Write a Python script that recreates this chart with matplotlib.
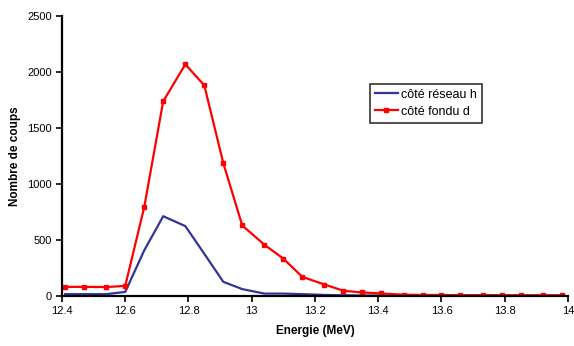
import matplotlib
matplotlib.use("Agg")
import matplotlib.pyplot as plt

plt.rcParams['font.family'] = ['Liberation Sans', 'DejaVu Sans']

energie = [12.41, 12.47, 12.54, 12.60, 12.66, 12.72, 12.79, 12.85, 12.91, 12.97,
           13.04, 13.10, 13.16, 13.23, 13.29, 13.35, 13.41, 13.48, 13.54, 13.60,
           13.66, 13.73, 13.79, 13.85, 13.92, 13.98]
reseau_h = [15, 15, 15, 35, 405, 710, 622, 375, 125, 60,
            20, 20, 15, 8, 5, 3, 2, 1, 1, 1,
            1, 1, 1, 1, 1, 1]
fondu_d = [80, 80, 78, 89, 790, 1735, 2065, 1877, 1185, 628,
           456, 332, 169, 101, 45, 30, 21, 10, 8, 7,
           6, 6, 5, 5, 5, 5]

fig = plt.figure(figsize=(5.74, 3.46), dpi=100)
ax = fig.add_axes([0.108, 0.145, 0.8815, 0.81])

ax.plot(energie, reseau_h, color='#333399', lw=1.6, label='côté réseau h')
ax.plot(energie, fondu_d, color='#ff0000', lw=1.6, marker='s', ms=3,
        label='côté fondu d')

ax.set_xlim(12.4, 14)
ax.set_ylim(0, 2500)
ax.set_xticks([12.4, 12.6, 12.8, 13, 13.2, 13.4, 13.6, 13.8, 14])
ax.set_xticklabels(['12.4', '12.6', '12.8', '13', '13.2', '13.4', '13.6', '13.8', '14'])
ax.set_yticks([0, 500, 1000, 1500, 2000, 2500])

for s in ['top', 'right']:
    ax.spines[s].set_visible(False)
for s in ['left', 'bottom']:
    ax.spines[s].set_linewidth(1.6)
ax.tick_params(labelsize=8, width=1.2, length=4, direction='out')

ax.set_xlabel('Energie (MeV)', fontsize=8.5, fontweight='bold', labelpad=6)
ax.set_ylabel('Nombre de coups', fontsize=8.5, fontweight='bold', labelpad=4)

leg = ax.legend(loc='upper left', bbox_to_anchor=(0.609, 0.757), fontsize=9,
                frameon=True, fancybox=False, handlelength=1.8,
                handletextpad=0.25, borderpad=0.4, labelspacing=0.4,
                borderaxespad=0)
leg.get_frame().set_edgecolor('black')
leg.get_frame().set_linewidth(1.2)

fig.savefig('out.png', dpi=100)
